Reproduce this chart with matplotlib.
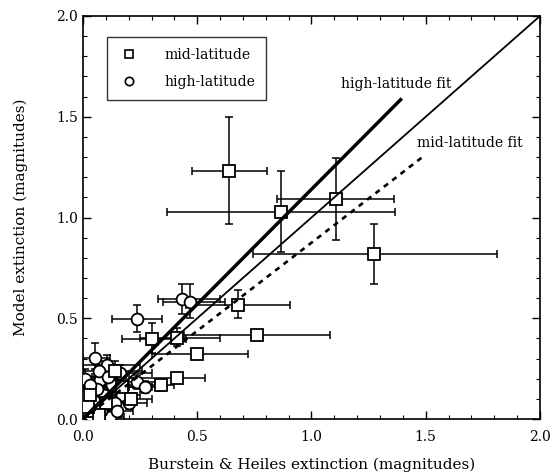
import matplotlib
matplotlib.use("Agg")
import matplotlib.pyplot as plt
from matplotlib.ticker import MultipleLocator
import numpy as np

plt.rcParams['font.family'] = ['DejaVu Serif']

# mid-latitude (squares): value, lower/upper bounds
mid_x   = [0.64, 0.866, 1.106, 1.275, 0.68, 0.763, 0.497, 0.41, 0.303, 0.41, 0.34, 0.17, 0.21, 0.10, 0.05, 0.14, 0.03, 0.07, 0.02]
mid_y   = [1.23, 1.026, 1.092, 0.817, 0.568, 0.418, 0.321, 0.203, 0.395, 0.40, 0.17, 0.16, 0.10, 0.08, 0.04, 0.24, 0.12, 0.02, 0.06]
mid_xlo = [0.476, 0.366, 0.85, 0.745, 0.45, 0.44, 0.30, 0.20, 0.17, 0.25, 0.28, 0.08, 0.12, 0.02, 0.00, 0.06, 0.00, 0.00, 0.00]
mid_xhi = [0.804, 1.365, 1.362, 1.81, 0.906, 1.081, 0.724, 0.534, 0.45, 0.60, 0.40, 0.30, 0.30, 0.20, 0.12, 0.26, 0.12, 0.16, 0.10]
mid_ylo = [0.966, 0.83, 0.887, 0.67, 0.50, 0.40, 0.30, 0.18, 0.33, 0.36, 0.14, 0.12, 0.07, 0.05, 0.01, 0.20, 0.08, 0.00, 0.02]
mid_yhi = [1.497, 1.231, 1.297, 0.966, 0.64, 0.44, 0.34, 0.22, 0.478, 0.45, 0.20, 0.21, 0.13, 0.11, 0.07, 0.29, 0.17, 0.05, 0.10]

# high-latitude (circles)
hi_x   = [0.432, 0.468, 0.235, 0.054, 0.105, 0.163, 0.076, 0.127, 0.236, 0.273, 0.171, 0.141, 0.083, 0.12, 0.04, 0.02, 0.03, 0.09, 0.06, 0.20, 0.15, 0.01, 0.07, 0.11, 0.02, 0.01, 0.05, 0.03, 0.08, 0.01]
hi_y   = [0.594, 0.582, 0.495, 0.301, 0.268, 0.227, 0.194, 0.169, 0.185, 0.160, 0.119, 0.078, 0.01, 0.01, 0.05, 0.10, 0.02, 0.12, 0.15, 0.08, 0.04, 0.20, 0.24, 0.21, 0.14, 0.05, 0.09, 0.17, 0.04, 0.12]
hi_xlo = [0.327, 0.35, 0.126, 0.00, 0.00, 0.05, 0.00, 0.03, 0.15, 0.20, 0.09, 0.06, 0.02, 0.05, 0.00, 0.00, 0.00, 0.02, 0.00, 0.12, 0.08, 0.00, 0.00, 0.04, 0.00, 0.00, 0.00, 0.00, 0.01, 0.00]
hi_xhi = [0.60, 0.62, 0.344, 0.12, 0.25, 0.30, 0.15, 0.22, 0.32, 0.35, 0.25, 0.22, 0.14, 0.18, 0.10, 0.08, 0.09, 0.16, 0.13, 0.28, 0.22, 0.06, 0.14, 0.19, 0.07, 0.06, 0.11, 0.09, 0.15, 0.05]
hi_ylo = [0.52, 0.50, 0.43, 0.25, 0.22, 0.19, 0.15, 0.13, 0.15, 0.13, 0.09, 0.05, 0.00, 0.00, 0.02, 0.06, 0.00, 0.09, 0.11, 0.05, 0.01, 0.16, 0.20, 0.17, 0.10, 0.02, 0.06, 0.13, 0.01, 0.08]
hi_yhi = [0.67, 0.67, 0.566, 0.377, 0.32, 0.27, 0.23, 0.21, 0.22, 0.19, 0.15, 0.11, 0.04, 0.04, 0.09, 0.14, 0.05, 0.16, 0.19, 0.11, 0.07, 0.25, 0.29, 0.25, 0.18, 0.08, 0.13, 0.21, 0.07, 0.16]

# fits
hi_slope, hi_xmax = 1.14, 1.39
mid_slope, mid_xmax = 0.875, 1.49

fig = plt.figure(figsize=(5.54, 4.76), dpi=100)
ax = fig.add_axes([0.1498, 0.1197, 0.8249, 0.8467])

def draw(x, y, xlo, xhi, ylo, yhi, marker, ms):
    x = np.array(x); y = np.array(y)
    xerr = [x - np.array(xlo), np.array(xhi) - x]
    yerr = [y - np.array(ylo), np.array(yhi) - y]
    ax.errorbar(x, y, xerr=xerr, yerr=yerr, fmt='none', ecolor='black',
                elinewidth=1.1, capsize=3, capthick=1.1, zorder=2)
    ax.plot(x, y, linestyle='none', marker=marker, ms=ms, mfc='white',
            mec='black', mew=1.3, zorder=3)

draw(hi_x, hi_y, hi_xlo, hi_xhi, hi_ylo, hi_yhi, 'o', 8.5)
draw(mid_x, mid_y, mid_xlo, mid_xhi, mid_ylo, mid_yhi, 's', 8)

ax.plot([0, 2], [0, 2], color='black', lw=1.3, zorder=4)
ax.plot([0, hi_xmax], [0, hi_slope * hi_xmax], color='black', lw=2.5, zorder=4)
ax.plot([0, mid_xmax], [0, mid_slope * mid_xmax], color='black', lw=1.9,
        linestyle=(0, (2, 2)), zorder=4)

ax.text(1.13, 1.665, 'high-latitude fit', fontsize=10, ha='left', va='center')
ax.text(1.46, 1.37, 'mid-latitude fit', fontsize=10, ha='left', va='center')

# legend
h1, = ax.plot([], [], 's', ms=6, mfc='white', mec='black', mew=1.2)
h2, = ax.plot([], [], 'o', ms=6, mfc='white', mec='black', mew=1.2)
leg = ax.legend([h1, h2], ['mid-latitude', 'high-latitude'], loc='upper left',
                bbox_to_anchor=(0.038, 0.965), frameon=True, fancybox=False,
                edgecolor='black', fontsize=10, handletextpad=1.8,
                borderpad=0.8, labelspacing=0.9, handlelength=1.5)
leg.get_frame().set_linewidth(1.0)

ax.set_xlim(0, 2)
ax.set_ylim(0, 2)
ax.xaxis.set_major_locator(MultipleLocator(0.5))
ax.yaxis.set_major_locator(MultipleLocator(0.5))
ax.xaxis.set_minor_locator(MultipleLocator(0.1))
ax.yaxis.set_minor_locator(MultipleLocator(0.1))
ax.xaxis.set_major_formatter(matplotlib.ticker.FormatStrFormatter('%.1f'))
ax.yaxis.set_major_formatter(matplotlib.ticker.FormatStrFormatter('%.1f'))
ax.tick_params(which='both', direction='in', top=True, right=True, labelsize=10)
ax.tick_params(which='major', length=6, width=1)
ax.tick_params(which='minor', length=3, width=0.8)
ax.tick_params(axis='x', pad=8)
for s in ax.spines.values():
    s.set_linewidth(1.2)

ax.set_xlabel('Burstein & Heiles extinction (magnitudes)', fontsize=11, labelpad=10)
ax.set_ylabel('Model extinction (magnitudes)', fontsize=11, labelpad=20)

fig.savefig('out.png', dpi=100)
